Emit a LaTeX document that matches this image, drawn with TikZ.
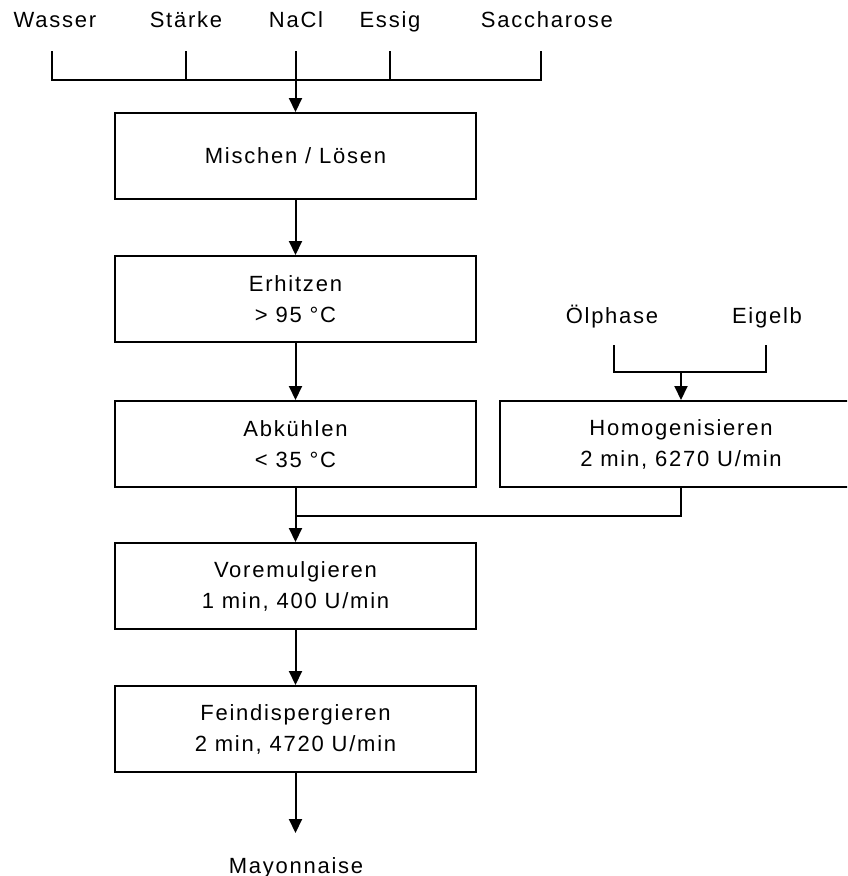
\documentclass[tikz,border=0pt]{standalone}
\usepackage{fontspec}
\setmainfont{Liberation Sans}[LetterSpace=8]
\usetikzlibrary{arrows.meta}
\begin{document}
\begin{tikzpicture}[x=1pt,y=-1pt,
  every node/.style={font=\fontsize{22}{31}\selectfont, inner sep=0pt},
  procbox/.style={draw, line width=2pt, rectangle, align=center,
    minimum width=361pt, minimum height=86pt},
  conn/.style={line width=2pt},
  flow/.style={conn, -{Triangle[width=13pt,length=14pt]}}]
\clip (0,0) rectangle (847,876);
\useasboundingbox (0,0) rectangle (847,876);

% ingredient labels
\node[anchor=base] (wasser) at (55,27) {Wasser};
\node[anchor=base] (staerke) at (186,27) {Stärke};
\node[anchor=base] (nacl) at (296,27) {NaCl};
\node[anchor=base] (essig) at (390,27) {Essig};
\node[anchor=base] (sacch) at (547,27) {Saccharose};

% process steps
\node[procbox] (mix) at (295.5,156) {Mischen / Lösen};
\node[procbox] (heat) at (295.5,299) {Erhitzen\\> 95 °C};
\node[procbox] (cool) at (295.5,444) {Abkühlen\\< 35 °C};
\node[procbox, minimum width=350pt] (homog) at (675,444) {\hspace*{12pt}Homogenisieren\\\hspace*{12pt}2 min, 6270 U/min};
\node[procbox] (preemul) at (295.5,586) {Voremulgieren\\1 min, 400 U/min};
\node[procbox] (disp) at (295.5,729) {Feindispergieren\\2 min, 4720 U/min};

\node[anchor=base] (oil) at (612,323) {Ölphase};
\node[anchor=base] (yolk) at (767,323) {Eigelb};
\node[anchor=base] (mayo) at (296,873) {Mayonnaise};

% bracket collecting the ingredients
\coordinate (cw) at (52,51);
\coordinate (cs) at (186,51);
\coordinate (cn) at (295.5,51);
\coordinate (ce) at (390,51);
\coordinate (cz) at (541,51);
\coordinate (barL) at (52,80);
\coordinate (barR) at (541,80);
\draw[conn] (cw) -- (barL) -- (barR) -- (cz);
\draw[conn] (cs) -- (cs |- barL);
\draw[conn] (ce) -- (ce |- barL);
\draw[flow] (cn) -- (mix.north);

\draw[flow] (mix) -- (heat);
\draw[flow] (heat) -- (cool);

% oil phase and yolk bracket
\coordinate (co) at (614,345);
\coordinate (cy) at (766,345);
\coordinate (oyL) at (614,372);
\coordinate (oyR) at (766,372);
\coordinate (oyM) at (681,372);
\draw[conn] (co) -- (oyL) -- (oyR) -- (cy);
\draw[flow] (oyM) -- (oyM |- homog.north);

% merge into pre-emulsification
\coordinate (hb) at (681,487);
\coordinate (merge) at (295.5,516);
\draw[conn] (hb |- homog.south) |- (merge);
\draw[flow] (cool) -- (preemul);
\draw[flow] (preemul) -- (disp);

\coordinate (mayoTip) at (295.5,833);
\draw[flow] (disp.south) -- (mayoTip);
\end{tikzpicture}
\end{document}
